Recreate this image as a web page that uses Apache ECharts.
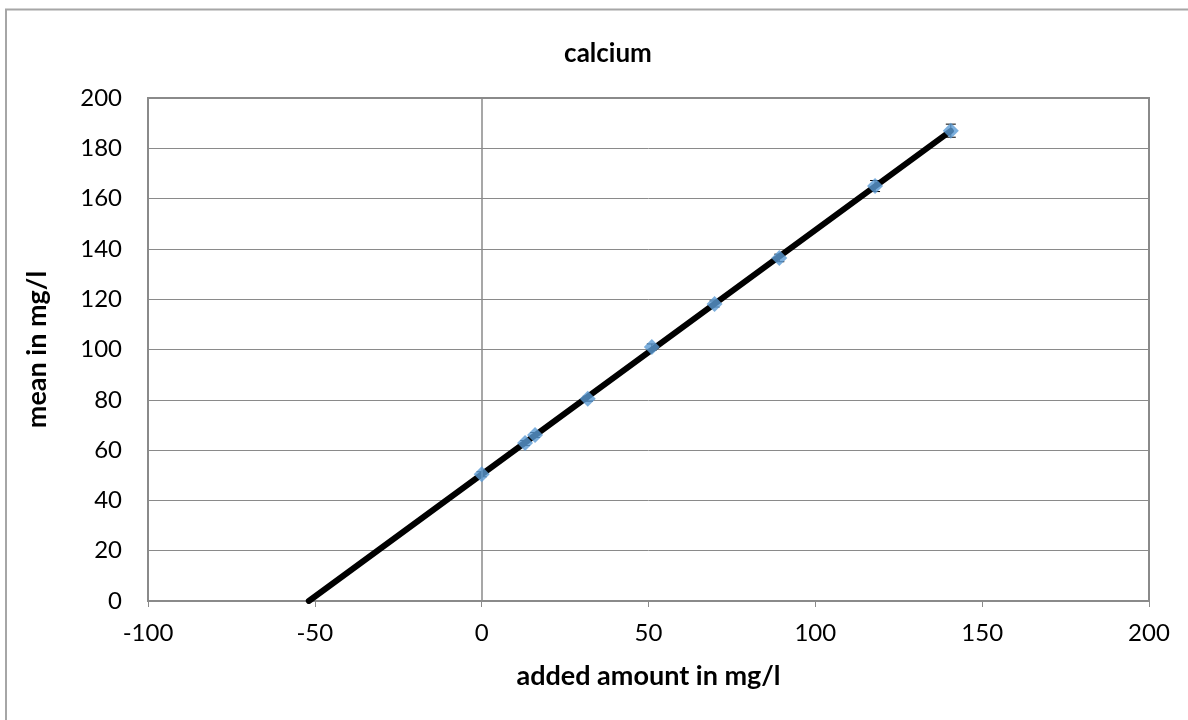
<!DOCTYPE html>
<html><head><meta charset="utf-8">
<script src="https://cdn.jsdelivr.net/npm/echarts@6/dist/echarts.min.js"></script>
<style>html,body{margin:0;padding:0;background:#fff}#c{width:1188px;height:720px}</style>
</head><body><div id="c"></div>
<script>
const addedAmount = [0, 13, 16, 31.8, 51, 69.8, 89.2, 117.9, 140.6];
const meanValues = [50.4, 62.8, 66, 80.4, 101, 118.1, 136.4, 165, 187];
const errorValues = [1, 1, 1, 1, 1.2, 1.2, 1.5, 2.2, 2.6];
const fitX = [-51.8, 140.6];
const fitY = [0, 186.9];
const xTicks = [-100, -50, 0, 50, 100, 150, 200];
const yTicks = [0, 20, 40, 60, 80, 100, 120, 140, 160, 180, 200];

const font = 'Lato, "Open Sans", "Liberation Sans", sans-serif';
const chart = echarts.init(document.getElementById('c'));
const pts = addedAmount.map((x, i) => [x, meanValues[i]]);
const errData = addedAmount.map((x, i) => [x, meanValues[i] - errorValues[i], meanValues[i] + errorValues[i]]);

chart.setOption({
  animation: false,
  backgroundColor: '#fff',
  graphic: [{
    type: 'polyline',
    shape: { points: [[6, 730], [6, 9.5], [1200, 9.5]] },
    style: { stroke: '#a6a6a6', lineWidth: 2, fill: null }
  }],
  title: {
    text: 'calcium', left: 603, top: 36, textAlign: 'center',
    textStyle: { fontFamily: font, fontSize: 26, fontWeight: 'bold', color: '#000' }
  },
  grid: { left: 148, right: 39, top: 98, bottom: 119, show: true, borderColor: '#8a8a8a', borderWidth: 2, backgroundColor: 'transparent' },
  xAxis: {
    type: 'value', min: xTicks[0], max: xTicks[xTicks.length - 1], interval: 50,
    name: 'added amount in mg/l', nameLocation: 'middle', nameGap: 62,
    nameTextStyle: { fontFamily: font, fontSize: 27, fontWeight: 'bold', color: '#000' },
    axisLine: { show: true, onZero: false, lineStyle: { color: '#8a8a8a', width: 2 } },
    axisTick: { show: true, length: 6, lineStyle: { color: '#8a8a8a' } },
    axisLabel: { fontFamily: font, fontSize: 24, color: '#000', margin: 20 },
    splitLine: { show: false }
  },
  yAxis: {
    type: 'value', min: yTicks[0], max: yTicks[yTicks.length - 1], interval: 20,
    name: 'mean in mg/l', nameLocation: 'middle', nameGap: 97, nameRotate: 90,
    nameTextStyle: { fontFamily: font, fontSize: 27, fontWeight: 'bold', color: '#000' },
    axisLine: { show: false },
    axisTick: { show: false },
    axisLabel: { fontFamily: font, fontSize: 24, color: '#000', margin: 26 },
    splitLine: { show: true, lineStyle: { color: '#8a8a8a', width: 1 } }
  },
  series: [
    {
      type: 'line', data: fitX.map((x, i) => [x, fitY[i]]), symbol: 'none',
      lineStyle: { color: '#000', width: 6, cap: 'round' }, z: 3,
      markLine: {
        silent: true, symbol: 'none', label: { show: false },
        lineStyle: { color: '#8a8a8a', width: 1.5, type: 'solid' },
        data: [{ xAxis: 0 }]
      }
    },
    {
      type: 'custom', z: 4,
      renderItem: function (params, api) {
        const x = api.value(0);
        const lo = api.coord([x, api.value(1)]);
        const hi = api.coord([x, api.value(2)]);
        const w = 5;
        return {
          type: 'group',
          children: [
            { type: 'line', shape: { x1: lo[0], y1: lo[1], x2: hi[0], y2: hi[1] }, style: { stroke: '#000', lineWidth: 1 } },
            { type: 'line', shape: { x1: lo[0] - w, y1: lo[1], x2: lo[0] + w, y2: lo[1] }, style: { stroke: '#000', lineWidth: 1 } },
            { type: 'line', shape: { x1: hi[0] - w, y1: hi[1], x2: hi[0] + w, y2: hi[1] }, style: { stroke: '#000', lineWidth: 1 } }
          ]
        };
      },
      encode: { x: 0, y: [1, 2] },
      data: errData
    },
    {
      type: 'scatter', data: pts, symbol: 'diamond', symbolSize: 16, z: 5,
      itemStyle: { color: '#5B9BD5' }
    }
  ]
});
</script></body></html>
